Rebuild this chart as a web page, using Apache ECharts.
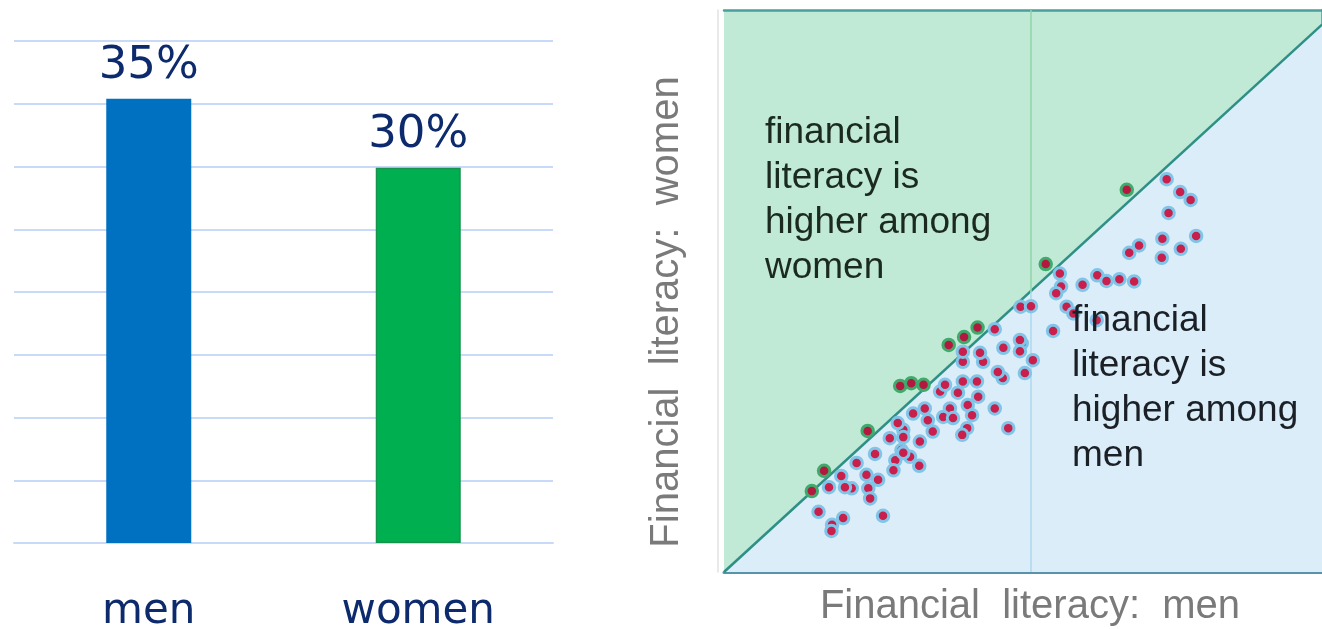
<!DOCTYPE html>
<html>
<head>
<meta charset="utf-8">
<script src="https://cdn.jsdelivr.net/npm/echarts@6/dist/echarts.min.js"></script>
<style>
  html, body { margin: 0; padding: 0; background: #fff; }
  #main { width: 1322px; height: 629px; }
</style>
</head>
<body>
<div id="main"></div>
<script>
// left panel: share by gender
var barCategories = ['men', 'women'];
var barValues = [35.4, 29.9];
var barColors = ['#0070c0', '#00b050'];

// right panel: country points, x = men, y = women
var womenHigherPoints = [
  [65.6, 68.0], [52.4, 54.8], [36.6, 40.4], [39.1, 41.8], [41.3, 43.5],
  [28.7, 33.1], [30.5, 33.6], [32.5, 33.3], [23.4, 25.1], [16.3, 18.0],
  [14.3, 14.4]
];
var menHigherPoints = [
  [72.1, 69.9], [74.3, 67.6], [76.0, 66.2], [72.4, 63.9], [71.4, 59.3],
  [76.9, 59.8], [74.4, 57.5], [71.3, 55.9], [67.6, 58.1], [66.0, 56.8],
  [54.7, 53.1], [54.9, 50.8], [54.1, 49.6], [58.4, 51.1], [60.8, 52.8],
  [62.3, 51.8], [64.4, 52.1], [66.8, 51.7], [55.8, 47.2], [56.9, 46.0],
  [60.7, 44.8], [53.6, 42.9], [48.3, 47.2], [50.0, 47.3], [48.5, 40.7],
  [44.1, 43.2], [48.2, 41.3], [48.2, 39.3], [50.3, 37.7], [49.0, 35.4],
  [45.5, 39.9], [42.2, 37.4], [41.7, 39.0], [38.9, 37.4], [38.9, 39.2],
  [45.4, 34.5], [44.6, 35.6], [41.2, 33.9], [38.9, 33.9], [38.1, 31.9],
  [35.2, 32.1], [36.0, 33.3], [41.4, 31.2], [44.1, 29.1], [46.3, 25.6],
  [32.7, 29.1], [36.8, 29.1], [39.7, 29.7], [30.8, 28.2], [33.2, 27.0],
  [35.7, 27.6], [37.3, 27.4], [40.4, 27.9], [39.6, 25.6], [38.8, 24.4],
  [34.0, 25.0], [31.9, 23.2], [29.2, 25.3], [29.2, 24.0], [28.3, 26.5],
  [27.0, 23.8], [28.9, 21.7], [30.3, 20.5], [27.9, 19.9], [27.6, 18.1],
  [31.8, 18.9], [24.6, 21.0], [21.6, 19.4], [25.1, 16.4], [23.2, 17.3],
  [23.5, 14.9], [23.8, 13.1], [20.8, 14.9], [19.7, 15.1], [19.1, 17.1],
  [17.1, 15.1], [15.4, 10.7], [19.4, 9.6], [17.6, 8.4], [17.5, 7.3],
  [25.9, 10.0], [29.2, 21.2]
];
// the frame is cut off at the right edge of the picture
var xMax = 97.4;
var diagonal = [[0, 0], [xMax, xMax]];
var midX = 50;
var womenNote = ['financial', 'literacy is', 'higher among', 'women'];
var menNote = ['financial', 'literacy is', 'higher among', 'men'];
var xTitle = 'Financial  literacy:  men';
var yTitle = 'Financial  literacy:  women';

var navy = '#0d2a6d';
var frame = '#4a9e9c';
var chart = echarts.init(document.getElementById('main'));

var hidden = { axisTick: { show: false }, axisLabel: { show: false }, splitLine: { show: false } };

chart.setOption({
  animation: false,
  backgroundColor: '#fff',
  grid: [
    { left: 14, right: 769, top: 41, bottom: 86, outerBoundsMode: 'none' },
    { left: 724, right: 0, top: 10, bottom: 57, show: true, outerBoundsMode: 'none',
      backgroundColor: '#c0ead5', borderWidth: 0 }
  ],
  xAxis: [
    { gridIndex: 0, type: 'category', data: barCategories,
      axisLine: { lineStyle: { color: '#c9daf8', width: 2 } },
      axisTick: { show: false },
      axisLabel: { margin: 48, fontSize: 42, color: navy, fontFamily: 'DejaVu Sans' } },
    Object.assign({ gridIndex: 1, type: 'value', min: 0, max: xMax,
      axisLine: { show: true, onZero: false, lineStyle: { color: '#5793ab', width: 3 } } }, hidden),
    Object.assign({ gridIndex: 1, type: 'value', min: 0, max: xMax, position: 'top',
      axisLine: { show: true, onZero: false, lineStyle: { color: frame, width: 2.5 } } }, hidden)
  ],
  yAxis: [
    { gridIndex: 0, type: 'value', min: 0, max: 40, interval: 5,
      axisLine: { show: false }, axisTick: { show: false }, axisLabel: { show: false },
      splitLine: { lineStyle: { color: '#c9daf8', width: 2 } } },
    Object.assign({ gridIndex: 1, type: 'value', min: 0, max: 100, offset: 6,
      axisLine: { show: true, onZero: false, lineStyle: { color: '#e2e2e2', width: 1.5 } } }, hidden),
    Object.assign({ gridIndex: 1, type: 'value', min: 0, max: 100,
      axisLine: { show: true, onZero: false, lineStyle: { color: frame, width: 2.5 } } }, hidden)
  ],
  series: [
    { type: 'bar', xAxisIndex: 0, yAxisIndex: 0, barWidth: 85,
      data: barValues.map(function (v, i) {
        return { value: v, itemStyle: { color: barColors[i],
          borderColor: i == 1 ? '#16934c' : barColors[i], borderWidth: i == 1 ? 1.5 : 0 } };
      }),
      label: { show: true, position: 'top', distance: 10, fontSize: 45, color: navy,
        fontFamily: 'DejaVu Sans',
        formatter: function (p) { return Math.round(p.value) + '%'; } } },
    { type: 'line', xAxisIndex: 1, yAxisIndex: 1, data: diagonal, symbol: 'none', z: 2,
      lineStyle: { color: '#2e8f86', width: 2.5 },
      areaStyle: { color: '#daedf8', opacity: 1 } },
    { type: 'line', xAxisIndex: 1, yAxisIndex: 1, data: [[midX, midX], [midX, 100]],
      symbol: 'none', z: 2, lineStyle: { color: '#8fd4aa', width: 1.5 } },
    { type: 'line', xAxisIndex: 1, yAxisIndex: 1, data: [[midX, 0], [midX, midX]],
      symbol: 'none', z: 2, lineStyle: { color: '#aed9ee', width: 1.5 } },
    { type: 'scatter', xAxisIndex: 1, yAxisIndex: 1, data: menHigherPoints, z: 3,
      symbolSize: 11.5,
      itemStyle: { color: '#c81f4c', borderColor: '#80c4e8', borderWidth: 3, opacity: 1 } },
    { type: 'scatter', xAxisIndex: 1, yAxisIndex: 1, data: womenHigherPoints, z: 3,
      symbolSize: 11.5,
      itemStyle: { color: '#b3183f', borderColor: '#3faa6c', borderWidth: 3, opacity: 1 } }
  ],
  graphic: [
    { type: 'text', x: 765, y: 110, z: 10,
      style: { text: womenNote.join('\n'), fontSize: 37, lineHeight: 45,
        fontFamily: 'Liberation Sans', fill: '#1b2a1f' } },
    { type: 'text', x: 1072, y: 298, z: 10,
      style: { text: menNote.join('\n'), fontSize: 37, lineHeight: 45,
        fontFamily: 'Liberation Sans', fill: '#1b1f26' } },
    { type: 'text', x: 1030, y: 607, z: 10,
      style: { text: xTitle, fontSize: 40, fontFamily: 'Liberation Sans', fill: '#7a7a7a',
        align: 'center', verticalAlign: 'middle' } },
    { type: 'text', x: 667, y: 312, rotation: Math.PI / 2, z: 10,
      style: { text: yTitle, fontSize: 40, fontFamily: 'Liberation Sans', fill: '#7a7a7a',
        align: 'center', verticalAlign: 'middle' } }
  ]
});
</script>
</body>
</html>
